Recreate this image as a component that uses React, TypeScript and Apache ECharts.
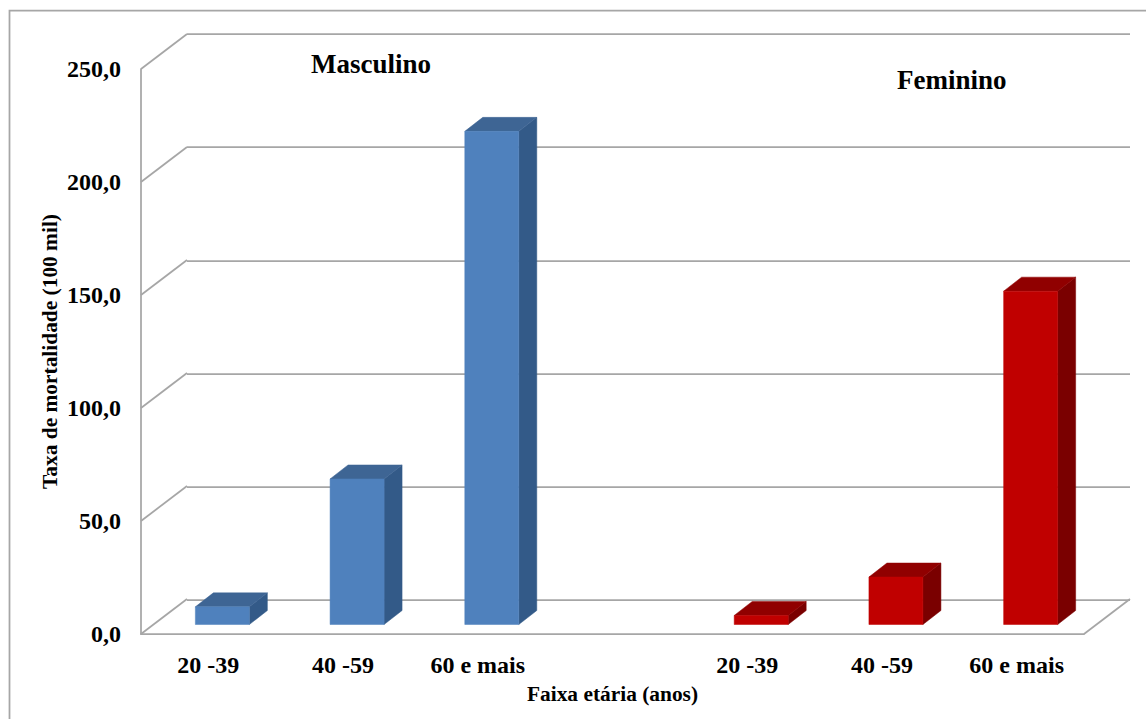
import React, { useEffect, useRef } from "react";
import * as echarts from "echarts";

const categories = ["20 -39", "40 -59", "60 e mais", "", "20 -39", "40 -59", "60 e mais"];
const masculino: [number, number][] = [[0, 7.8], [1, 64.4], [2, 218.2]];
const feminino: [number, number][] = [[4, 4], [5, 21], [6, 147.5]];
const yTicks = [0, 50, 100, 150, 200, 250];

const FONT = '"Liberation Serif", "Times New Roman", serif';
const GRAY = "#a6a6a6";
const LINE_W = 1.75;
const DX = 46;
const DY = 35;
const BAR_W = 54;
const BAR_SHIFT = 14;
const BASE_LIFT = 9.5;
const BAR_DX = 18;
const BAR_DY = 14;

const bar3d = (front: string, side: string, top: string) => (_: any, api: any) => {
  const [cx, y0] = api.coord([api.value(0), 0]);
  const [, y1] = api.coord([api.value(0), api.value(1)]);
  const l = cx + BAR_SHIFT - BAR_W / 2;
  const r = l + BAR_W;
  const b = y0 - BASE_LIFT;
  const t = y1 - BASE_LIFT;
  const poly = (points: number[][], fill: string) => ({
    type: "polygon",
    shape: { points },
    style: { fill, stroke: fill, lineWidth: 0.5 },
  });
  return {
    type: "group",
    children: [
      poly([[r, b], [r + BAR_DX, b - BAR_DY], [r + BAR_DX, t - BAR_DY], [r, t]], side),
      poly([[l, t], [r, t], [r + BAR_DX, t - BAR_DY], [l + BAR_DX, t - BAR_DY]], top),
      poly([[l, t], [r, t], [r, b], [l, b]], front),
    ],
  };
};

const wallLink = (_: any, api: any) => {
  const [cx, y] = api.coord([0, api.value(0)]);
  const x = cx - api.size([1, 0])[0] / 2;
  return {
    type: "line",
    shape: { x1: x, y1: y, x2: x + DX, y2: y - DY },
    style: { stroke: GRAY, lineWidth: LINE_W },
  };
};

const floorEdge = (_: any, api: any) => {
  const [cx, y] = api.coord([6, api.value(0)]);
  const x = cx + api.size([1, 0])[0] / 2;
  return {
    type: "line",
    shape: { x1: x, y1: y, x2: x + DX, y2: y - DY },
    style: { stroke: GRAY, lineWidth: LINE_W },
  };
};

export default function App() {
  const ref = useRef<HTMLDivElement>(null);
  useEffect(() => {
    const chart = echarts.init(ref.current!, undefined, { renderer: "svg" });
    chart.setOption({
      animation: false,
      backgroundColor: "#ffffff",
      textStyle: { fontFamily: FONT },
      grid: [
        { left: 141, top: 69, width: 943, height: 565 },
        { left: 187, top: 34, width: 943, height: 566 },
      ],
      xAxis: [
        {
          type: "category",
          gridIndex: 0,
          data: categories,
          boundaryGap: true,
          axisLine: { lineStyle: { color: GRAY, width: LINE_W } },
          axisTick: { show: false },
          axisLabel: {
            interval: 0,
            margin: 19,
            fontFamily: FONT,
            fontWeight: "bold",
            fontSize: 24,
            color: "#000",
          },
          name: "Faixa etária (anos)",
          nameLocation: "middle",
          nameGap: 49,
          nameTextStyle: { fontFamily: FONT, fontWeight: "bold", fontSize: 21.4, color: "#000" },
        },
        { type: "category", gridIndex: 1, data: categories, show: false },
      ],
      yAxis: [
        {
          type: "value",
          gridIndex: 0,
          min: 0,
          max: 250,
          interval: 50,
          splitLine: { show: false },
          axisLine: { show: true, lineStyle: { color: GRAY, width: LINE_W } },
          axisTick: { show: false },
          axisLabel: {
            margin: 20,
            fontFamily: FONT,
            fontWeight: "bold",
            fontSize: 24,
            color: "#000",
            formatter: (v: number) => v.toFixed(1).replace(".", ","),
          },
          name: "Taxa de mortalidade (100 mil)",
          nameLocation: "middle",
          nameGap: 81,
          nameMoveOverlap: false,
          nameRotate: 90,
          nameTextStyle: { fontFamily: FONT, fontWeight: "bold", fontSize: 21.4, color: "#000" },
        },
        {
          type: "value",
          gridIndex: 1,
          min: 0,
          max: 250,
          interval: 50,
          axisLine: { show: false },
          axisTick: { show: false },
          axisLabel: { show: false },
          splitLine: { show: true, lineStyle: { color: GRAY, width: LINE_W } },
        },
      ],
      series: [
        {
          type: "custom",
          xAxisIndex: 0,
          yAxisIndex: 0,
          data: yTicks.map((v) => [v]),
          encode: { y: 0 },
          renderItem: wallLink,
          silent: true,
          z: 1,
        },
        {
          type: "custom",
          xAxisIndex: 0,
          yAxisIndex: 0,
          data: [[0]],
          encode: { y: 0 },
          renderItem: floorEdge,
          silent: true,
          z: 1,
        },
        {
          type: "custom",
          name: "Masculino",
          xAxisIndex: 0,
          yAxisIndex: 0,
          data: masculino,
          encode: { x: 0, y: 1 },
          renderItem: bar3d("#4f81bd", "#335a88", "#3e6594"),
          z: 3,
        },
        {
          type: "custom",
          name: "Feminino",
          xAxisIndex: 0,
          yAxisIndex: 0,
          data: feminino,
          encode: { x: 0, y: 1 },
          renderItem: bar3d("#c00000", "#7a0000", "#900000"),
          z: 3,
        },
      ],
      graphic: [
        {
          type: "rect",
          shape: { x: 9.5, y: 10.5, width: 1300, height: 900 },
          style: { fill: "none", stroke: GRAY, lineWidth: LINE_W },
          silent: true,
          z: 0,
        },
        {
          type: "text",
          x: 311,
          y: 50,
          style: { text: "Masculino", font: `bold 27px ${FONT}`, fill: "#000" },
        },
        {
          type: "text",
          x: 897,
          y: 66,
          style: { text: "Feminino", font: `bold 27px ${FONT}`, fill: "#000" },
        },
      ],
    });
    return () => chart.dispose();
  }, []);
  return <div ref={ref} style={{ position: "fixed", left: 0, top: 0, width: 1146, height: 719 }} />;
}
